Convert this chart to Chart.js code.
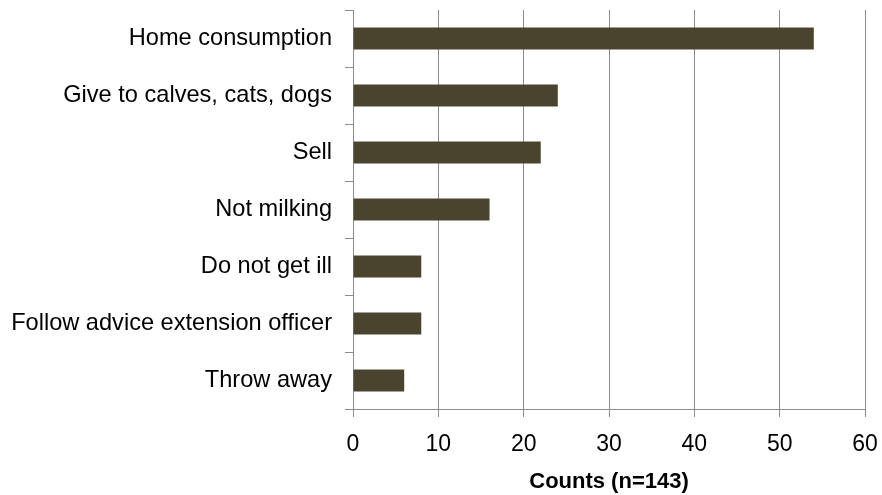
<!DOCTYPE html>
<html>
<head>
<meta charset="utf-8">
<script src="https://cdn.jsdelivr.net/npm/chart.js@4"></script>
<style>
  html, body { margin: 0; padding: 0; background: #fff; }
  #wrap { width: 882px; height: 495px; }
</style>
</head>
<body>
<div id="wrap"><canvas id="usos"></canvas></div>
<script>
// Respuestas sobre el uso de la leche
const categorias = [
  "Home consumption",
  "Give to calves, cats, dogs",
  "Sell",
  "Not milking",
  "Do not get ill",
  "Follow advice extension officer",
  "Throw away",
];
const conteos = [54, 24, 22, 16, 8, 8, 6];
const ejeX = { min: 0, max: 60, paso: 10 };
const tituloX = "Counts (n=143)";

const fuente = "'Liberation Sans', Arial, sans-serif";
const gris = "#8c8c8c";

new Chart(document.getElementById("usos"), {
  type: "bar",
  data: {
    labels: categorias,
    datasets: [{
      data: conteos,
      backgroundColor: "#4a442e",
      borderWidth: 0,
      barPercentage: 0.39,
      categoryPercentage: 1,
    }],
  },
  options: {
    indexAxis: "y",
    responsive: true,
    maintainAspectRatio: false,
    animation: false,
    layout: { padding: { top: 10, right: 17, left: 0, bottom: 0 } },
    plugins: {
      legend: { display: false },
      tooltip: { enabled: false },
    },
    scales: {
      x: {
        min: ejeX.min,
        max: ejeX.max,
        ticks: {
          stepSize: ejeX.paso,
          font: { family: fuente, size: 23 },
          color: "#000",
          padding: 14,
        },
        grid: { color: gris, lineWidth: 1, tickLength: 8, tickColor: gris },
        border: { color: gris },
        title: {
          display: true,
          text: tituloX,
          font: { family: fuente, size: 22, weight: "bold" },
          color: "#000",
          padding: { top: 2, bottom: 0 },
        },
        afterFit: (s) => {
          s.height = 86;
          s.paddingLeft = 0;
          s.paddingRight = 0;
        },
      },
      y: {
        ticks: {
          font: { family: fuente, size: 23.6 },
          color: "#000",
          padding: 13,
        },
        grid: {
          offset: true,
          drawOnChartArea: false,
          tickLength: 8,
          tickColor: gris,
        },
        border: { color: gris },
        afterFit: (s) => {
          s.width = 353;
          s.paddingTop = 0;
          s.paddingBottom = 0;
        },
      },
    },
  },
});
</script>
</body>
</html>
